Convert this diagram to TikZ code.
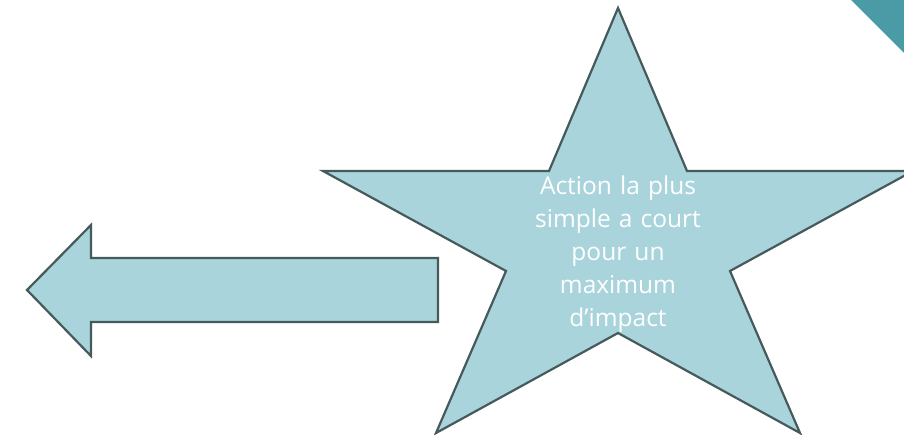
\documentclass[tikz,border=0pt]{standalone}
\usepackage{fontspec}
\setmainfont{Open Sans}
\definecolor{shapefill}{HTML}{A9D4DC}
\definecolor{shapeline}{HTML}{46595B}
\definecolor{corner}{HTML}{4A9BA5}
\tikzset{shapestyle/.style={fill=shapefill, draw=shapeline, line width=2.2pt, line join=miter}}
\begin{document}
\begin{tikzpicture}[x=1pt,y=-1pt]
\useasboundingbox (0,0) rectangle (904,435);
\begin{scope}
\clip (0,0) rectangle (904,435);
% corner triangle
\fill[corner] (851,0) -- (904,0) -- (904,53) -- cycle;
% star
\draw[shapestyle] (618,8) -- (687,171) -- (913,171) -- (730,271) -- (800,433)
  -- (618,333) -- (436,433) -- (506,271) -- (323,171) -- (549,171) -- cycle;
% arrow
\draw[shapestyle] (27,290) -- (91,225) -- (91,258) -- (438,258) -- (438,322)
  -- (91,322) -- (91,356) -- cycle;
\end{scope}
\node[text=white, font=\fontsize{24.5}{33}\selectfont, align=center, text width=220pt, anchor=base] (t) at (618,195)
  {Action la plus\\simple a court\\pour un\\maximum\\d’impact};
\end{tikzpicture}
\end{document}
